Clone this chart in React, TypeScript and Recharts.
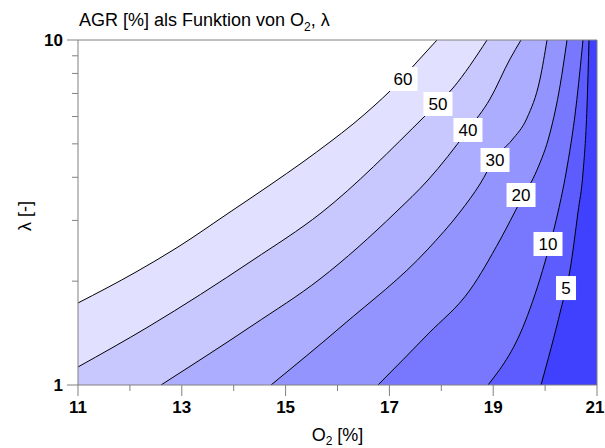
import { ComposedChart, Area, Line, Scatter, XAxis, YAxis, ReferenceLine } from "recharts";

const FONT = "'Liberation Sans', Arial, sans-serif";

// axis ticks (O2 in %, lambda on a log axis)
const o2Ticks = [11, 12, 13, 14, 15, 16, 17, 18, 19, 20, 21];
const lambdaTicks = [1, 2, 3, 4, 5, 6, 7, 8, 9, 10];

// contour levels (AGR in %) and the fill of the band just below each level
const levels = [60, 50, 40, 30, 20, 10, 5];
const bandColors = ["#E1E1FF", "#C8C8FF", "#ADADFF", "#9494FF", "#7878FF", "#5C5CFF", "#4040FF"];

// contour lines as [O2, lambda]
const c60 = [[11.0, 1.729], [12.118, 2.126], [12.927, 2.512], [13.929, 3.172], [14.699, 3.799], [15.335, 4.431], [15.855, 5.062], [16.299, 5.708], [16.723, 6.48], [17.012, 7.115], [17.513, 8.577], [17.917, 10]];
const c50 = [[11.0, 1.128], [12.349, 1.473], [14.372, 2.303], [15.682, 3.151], [17.705, 6.062], [18.225, 7.258], [18.881, 10]];
const c40 = [[12.599, 1], [14.372, 1.492], [15.663, 2.029], [17.127, 3.172], [17.744, 3.928], [18.514, 5.485], [18.938, 6.745], [19.324, 8.81], [19.536, 10]];
const c30 = [[14.719, 1], [16.106, 1.492], [17.744, 2.478], [18.36, 3.172], [18.746, 3.824], [19.035, 4.55], [19.362, 5.131], [19.651, 5.941], [19.902, 7.709], [20.037, 10]];
const c20 = [[16.78, 1], [17.744, 1.405], [18.553, 1.886], [19.131, 2.632], [19.536, 3.437], [19.844, 4.2], [20.094, 5.375], [20.287, 7.355], [20.422, 10]];
const c10 = [[18.9, 1], [19.613, 1.523], [19.998, 2.273], [20.249, 3.172], [20.403, 4.116], [20.595, 6.394], [20.73, 10]];
const c5 = [[19.921, 1], [20.306, 1.661], [20.48, 2.154], [20.634, 3.172], [20.73, 4.116], [20.807, 6.394], [20.846, 10]];

const contourLines = [c60, c50, c40, c30, c20, c10, c5];

// where the level labels sit on their lines: [O2, lambda]
const labelPos = [[17.262, 7.709], [17.936, 6.524], [18.514, 5.485], [19.035, 4.489], [19.536, 3.554], [20.056, 2.563], [20.403, 1.91]];

const toPoints = (arr: number[][]) => arr.map(([o2, lam]) => ({ o2, lam }));

const contours = levels.map((level, i) => {
  const pts = toPoints(contourLines[i]);
  const xTop = pts[pts.length - 1].o2;
  return {
    level,
    color: bandColors[i],
    pts,
    // everything right of where the line leaves the top edge
    rest: [{ o2: xTop - 0.01, lam: 10 }, { o2: 21, lam: 10 }],
  };
});

const labels = levels.map((level, i) => ({ o2: labelPos[i][0], lam: labelPos[i][1], level }));

function XTick({ x, y, payload }: any) {
  const v = payload.value;
  const major = v % 2 === 1;
  // keep the last label inside the page
  const tx = v === 21 ? x - 2 : x;
  return (
    <g>
      <line x1={x} y1={y} x2={x} y2={y + (major ? 11 : 6)} stroke="#808080" />
      {major && (
        <text x={tx} y={y + 28} textAnchor="middle" fontFamily={FONT} fontWeight="bold" fontSize={17} fill="#000">
          {v}
        </text>
      )}
    </g>
  );
}

function YTick({ x, y, payload }: any) {
  const v = payload.value;
  const major = v === 1 || v === 10;
  return (
    <g>
      <line x1={x - (major ? 11 : 6)} y1={y} x2={x} y2={y} stroke="#808080" />
      {major && (
        <text x={x - 15} y={y + 6} textAnchor="end" fontFamily={FONT} fontWeight="bold" fontSize={17} fill="#000">
          {v}
        </text>
      )}
    </g>
  );
}

function LevelLabel({ cx, cy, payload }: any) {
  const txt = String(payload.level);
  const w = txt.length > 1 ? 29 : 20;
  const h = 24;
  return (
    <g>
      <rect x={cx - w / 2} y={cy - h / 2} width={w} height={h} fill="#fff" />
      <text x={cx} y={cy + 6} textAnchor="middle" fontFamily={FONT} fontSize={17} fill="#000">
        {txt}
      </text>
    </g>
  );
}

export default function App() {
  return (
    <div style={{ position: "relative", width: 605, height: 448, fontFamily: FONT }}>
      <style>{"body { margin: 0; }"}</style>
      <ComposedChart width={605} height={448} margin={{ top: 40, right: 8, bottom: 23, left: 18 }}>
        <XAxis
          dataKey="o2"
          type="number"
          domain={[11, 21]}
          ticks={o2Ticks}
          interval={0}
          allowDataOverflow
          height={40}
          tickSize={0}
          tickMargin={0}
          tickLine={false}
          axisLine={{ stroke: "#808080" }}
          tick={<XTick />}
        />
        <YAxis
          dataKey="lam"
          type="number"
          scale="log"
          domain={[1, 10]}
          ticks={lambdaTicks}
          interval={0}
          allowDataOverflow
          width={60}
          tickSize={0}
          tickMargin={0}
          tickLine={false}
          axisLine={{ stroke: "#808080" }}
          tick={<YTick />}
        />
        {contours.flatMap((c) => [
          <Area
            key={`a${c.level}`}
            data={c.pts}
            dataKey="lam"
            type="monotone"
            baseValue={1}
            fill={c.color}
            fillOpacity={1}
            stroke="none"
            isAnimationActive={false}
          />,
          <Area
            key={`r${c.level}`}
            data={c.rest}
            dataKey="lam"
            type="linear"
            baseValue={1}
            fill={c.color}
            fillOpacity={1}
            stroke="none"
            isAnimationActive={false}
          />,
        ])}
        {contours.map((c) => (
          <Line
            key={`l${c.level}`}
            data={c.pts}
            dataKey="lam"
            type="monotone"
            stroke="#000"
            strokeWidth={1}
            dot={false}
            isAnimationActive={false}
          />
        ))}
        <ReferenceLine y={10} stroke="#808080" />
        <ReferenceLine x={21} stroke="#808080" />
        <Scatter data={labels} dataKey="lam" shape={<LevelLabel />} isAnimationActive={false} />
      </ComposedChart>
      <svg width={605} height={448} style={{ position: "absolute", left: 0, top: 0, pointerEvents: "none" }}>
        <text x={79} y={26} fontFamily={FONT} fontSize={18} fill="#000">
          AGR [%] als Funktion von O<tspan fontSize={12} dy={5}>2</tspan>
          <tspan dy={-5}>, λ</tspan>
        </text>
        <text x={337.5} y={441} textAnchor="middle" fontFamily={FONT} fontSize={18} fill="#000">
          O<tspan fontSize={12} dy={4}>2</tspan>
          <tspan dy={-4}> [%]</tspan>
        </text>
        <text transform="translate(31,216) rotate(-90)" textAnchor="middle" fontFamily={FONT} fontSize={18} fill="#000">
          λ [-]
        </text>
      </svg>
    </div>
  );
}
